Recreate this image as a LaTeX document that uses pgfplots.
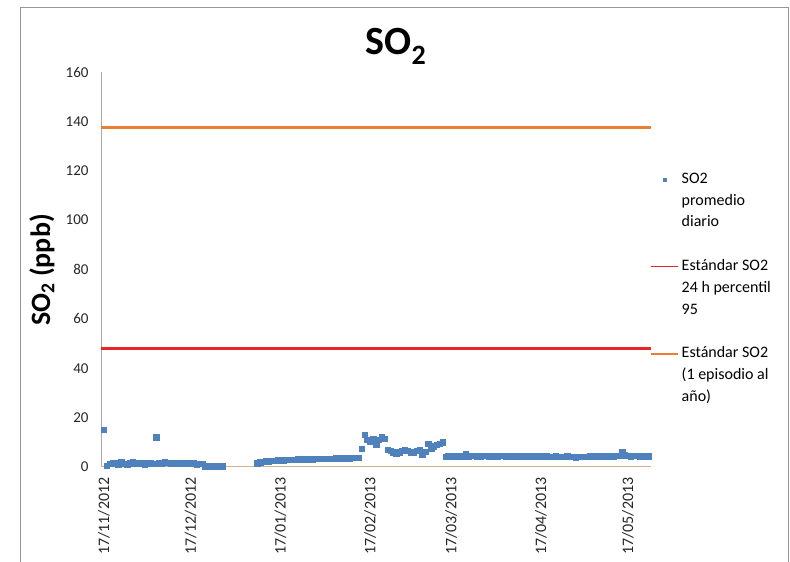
\documentclass[border=0pt]{standalone}
\usepackage{fontspec}
\setmainfont{Carlito}
\usepackage{pgfplots}
\pgfplotsset{compat=1.18}
\usepackage{pgfplotstable}
\definecolor{soblue}{HTML}{4F81BD}
\definecolor{stdred}{HTML}{E6262B}
\definecolor{stdorange}{HTML}{ED7D31}
\definecolor{axisgray}{RGB}{170,170,170}
\definecolor{axistan}{RGB}{215,175,140}
\definecolor{framegray}{RGB}{150,150,150}

\pgfplotstableread{
day so2
0 15
1 0.5
2 1.3
3 1.8
4 1.6
5 1.2
6 1.9
7 1.4
8 1.1
9 1.5
10 2.0
11 1.6
12 1.3
13 1.7
14 1.2
15 1.5
16 1.8
17 1.4
18 12
19 1.6
20 1.3
21 2.0
22 1.7
23 1.5
24 1.4
25 1.8
26 1.6
27 1.5
28 1.3
29 1.6
30 1.4
31 1.5
32 1.2
33 1.4
34 1.3
35 0.4
36 0.3
37 0.5
38 0.3
39 0.4
40 0.3
41 0.4
53 1.6
54 1.9
55 2.1
56 2.3
57 2.4
58 2.5
59 2.6
60 2.7
61 2.8
62 2.8
63 2.9
64 2.9
65 3.0
66 3.0
67 3.1
68 3.1
69 3.1
70 3.2
71 3.2
72 3.2
73 3.3
74 3.3
75 3.3
76 3.3
77 3.4
78 3.4
79 3.4
80 3.5
81 3.5
82 3.5
83 3.6
84 3.6
85 3.6
86 3.7
87 3.7
88 3.8
89 7.5
90 13
91 11
92 10.5
93 11.5
94 9
95 11
96 12
97 11.5
98 7
99 6.5
100 6
101 5.5
102 6
103 6.5
104 7
105 6.5
106 6
107 5.8
108 6.5
109 7
110 5.2
111 6.2
112 9.5
113 7.5
114 8.5
115 9
116 9.5
117 10
118 4.2
119 4.3
120 4.1
121 4.4
122 4.3
123 4.5
124 4.4
125 5.3
126 4.4
127 4.6
128 4.5
129 4.3
130 4.4
131 4.5
132 4.6
133 4.4
134 4.5
135 4.3
136 4.4
137 4.6
138 4.5
139 4.4
140 4.5
141 4.3
142 4.4
143 4.5
144 4.4
145 4.3
146 4.2
147 4.4
148 4.3
149 4.2
150 4.3
151 4.4
152 4.2
153 4.3
154 4.1
155 4.2
156 4.3
157 4.2
158 4.1
159 4.2
160 4.3
161 4.1
162 4.2
163 4.0
164 4.1
165 4.2
166 4.1
167 4.2
168 4.3
169 4.2
170 4.4
171 4.3
172 4.5
173 4.4
174 4.3
175 4.5
176 4.4
177 4.6
178 4.5
179 6.0
180 4.7
181 4.5
182 4.4
183 4.6
184 4.5
185 4.4
186 4.3
187 4.5
188 4.4
}\sodata

\begin{document}
\begin{tikzpicture}[x=1pt,y=1pt]
\path[use as bounding box] (0pt,0pt) rectangle (790pt,562pt);
\draw[framegray, line width=1pt] (20pt,-2pt) -- (20pt,554pt) -- (788pt,554pt) -- (788pt,-2pt);
\node[font=\bfseries\fontsize{40}{42}\selectfont] at (396pt,516pt) {SO\textsubscript{2}};
\node[rotate=90, font=\bfseries\fontsize{28}{30}\selectfont] at (42pt,292pt) {SO\textsubscript{2} (ppb)};
\begin{axis}[
  at={(101pt,95pt)}, anchor=south west,
  scale only axis, width=550pt, height=395pt,
  xmin=-1, xmax=189, ymin=0, ymax=160,
  ytick={0,20,...,160},
  xtick={0,30,61,92,120,151,181},
  xticklabels={17/11/2012,17/12/2012,17/01/2013,17/02/2013,17/03/2013,17/04/2013,17/05/2013},
  axis x line*=bottom, axis y line*=left,
  axis line style={-},
  x axis line style={axistan, line width=1pt},
  y axis line style={axisgray, line width=1pt},
  major tick length=0pt,
  /pgf/number format/assume math mode=true,
  tick label style={font=\fontsize{15}{18}\selectfont, color=black!85},
  xticklabel style={rotate=90, anchor=east, font=\fontsize{16}{18}\selectfont},
  xticklabel shift=7pt,
  yticklabel shift=9pt,
  clip=false,
  legend style={at={(0.998,0.754)}, anchor=north west, draw=none, fill=none,
    inner sep=0pt, font=\fontsize{16}{18}\selectfont, row sep=0pt,
    column sep=3pt, cells={anchor=base west},
    nodes={inner sep=0pt, text height=14pt, text depth=7.8pt}},
  legend image code/.code={\draw[mark repeat=2,mark phase=2,#1] plot coordinates {(0pt,4pt) (13.5pt,4pt) (27pt,4pt)};},
]
\addplot[only marks, mark=square*, mark size=2.7pt, color=soblue,
  legend image post style={mark size=1.6pt}] table[x=day, y=so2] {\sodata};
\addlegendentry{SO2}
\addlegendimage{empty legend}\addlegendentry{promedio}
\addlegendimage{empty legend}\addlegendentry{diario}
\addlegendimage{empty legend}\addlegendentry{}
\addplot[stdred, line width=2.4pt, no marks, legend image post style={line width=1.6pt}] coordinates {(-1,48) (189,48)};
\addlegendentry{Estándar SO2}
\addlegendimage{empty legend}\addlegendentry{24 h percentil}
\addlegendimage{empty legend}\addlegendentry{95}
\addlegendimage{empty legend}\addlegendentry{}
\addplot[stdorange, line width=2.4pt, no marks, legend image post style={line width=1.6pt}] coordinates {(-1,137.5) (189,137.5)};
\addlegendentry{Estándar SO2}
\addlegendimage{empty legend}\addlegendentry{(1 episodio al}
\addlegendimage{empty legend}\addlegendentry{año)}
\end{axis}
\end{tikzpicture}
\end{document}
